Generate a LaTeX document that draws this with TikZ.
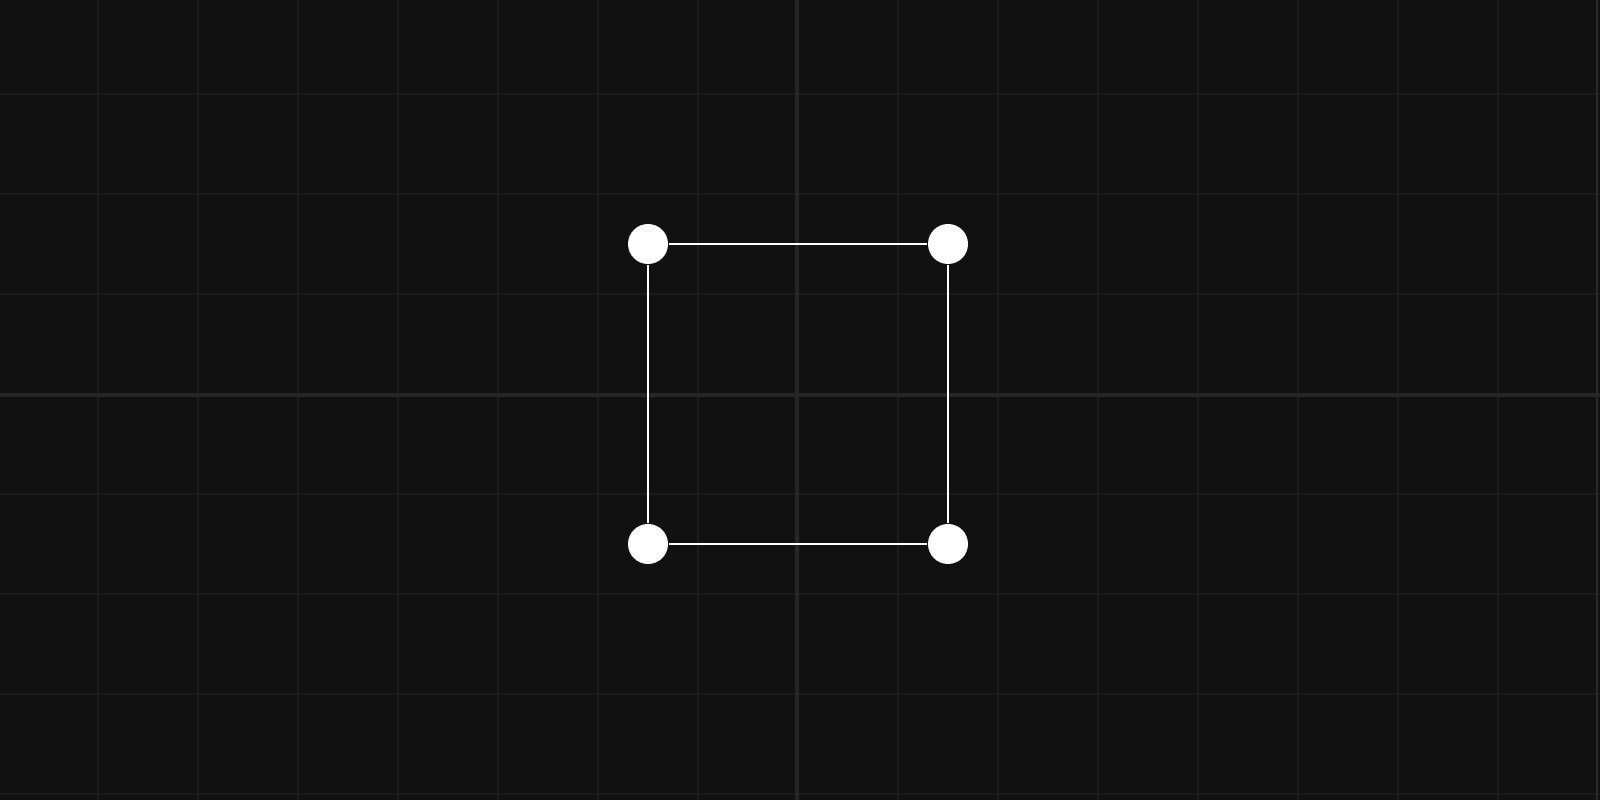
\documentclass[tikz,border=0pt]{standalone}
\usetikzlibrary{positioning}
\definecolor{bg}{HTML}{111111}
\definecolor{gridc}{HTML}{1C1C1C}
\definecolor{axisc}{HTML}{262626}
\definecolor{edgec}{HTML}{2A2A2A}

\begin{document}
\begin{tikzpicture}[line width=0.57pt]
\tikzset{vertex/.style={circle,fill=white,inner sep=0pt,minimum size=0.4cm},
         link/.style={draw=white,line width=0.57pt}}
% ---- background and grid ----
\fill[bg] (0,0) rectangle (16,8);
\useasboundingbox (0,0) rectangle (16,8);
\foreach \i in {0,...,14}{
  \draw[gridc] ({0.98+\i},0) -- ({0.98+\i},8);
}
\foreach \j in {0,...,7}{
  \draw[gridc] (0,{7.06-\j}) -- (16,{7.06-\j});
}
\draw[edgec] (15.97,0) -- (15.97,8);
% ---- axes ----
\draw[axisc,line width=1.4pt] (7.97,0) -- (7.97,8);
\draw[axisc,line width=1.4pt] (0,4.05) -- (16,4.05);
% ---- square of four vertices ----
\begin{scope}[shift={(7.98,4.06)}]
\node[vertex] (tl) at (-1.5,1.5) {};
\node[vertex] (tr) at (1.5,1.5) {};
\node[vertex] (bl) at (-1.5,-1.5) {};
\node[vertex] (br) at (1.5,-1.5) {};
\draw[link] (tl) -- (tr);
\draw[link] (tr) -- (br);
\draw[link] (br) -- (bl);
\draw[link] (bl) -- (tl);
\end{scope}
\end{tikzpicture}
\end{document}
